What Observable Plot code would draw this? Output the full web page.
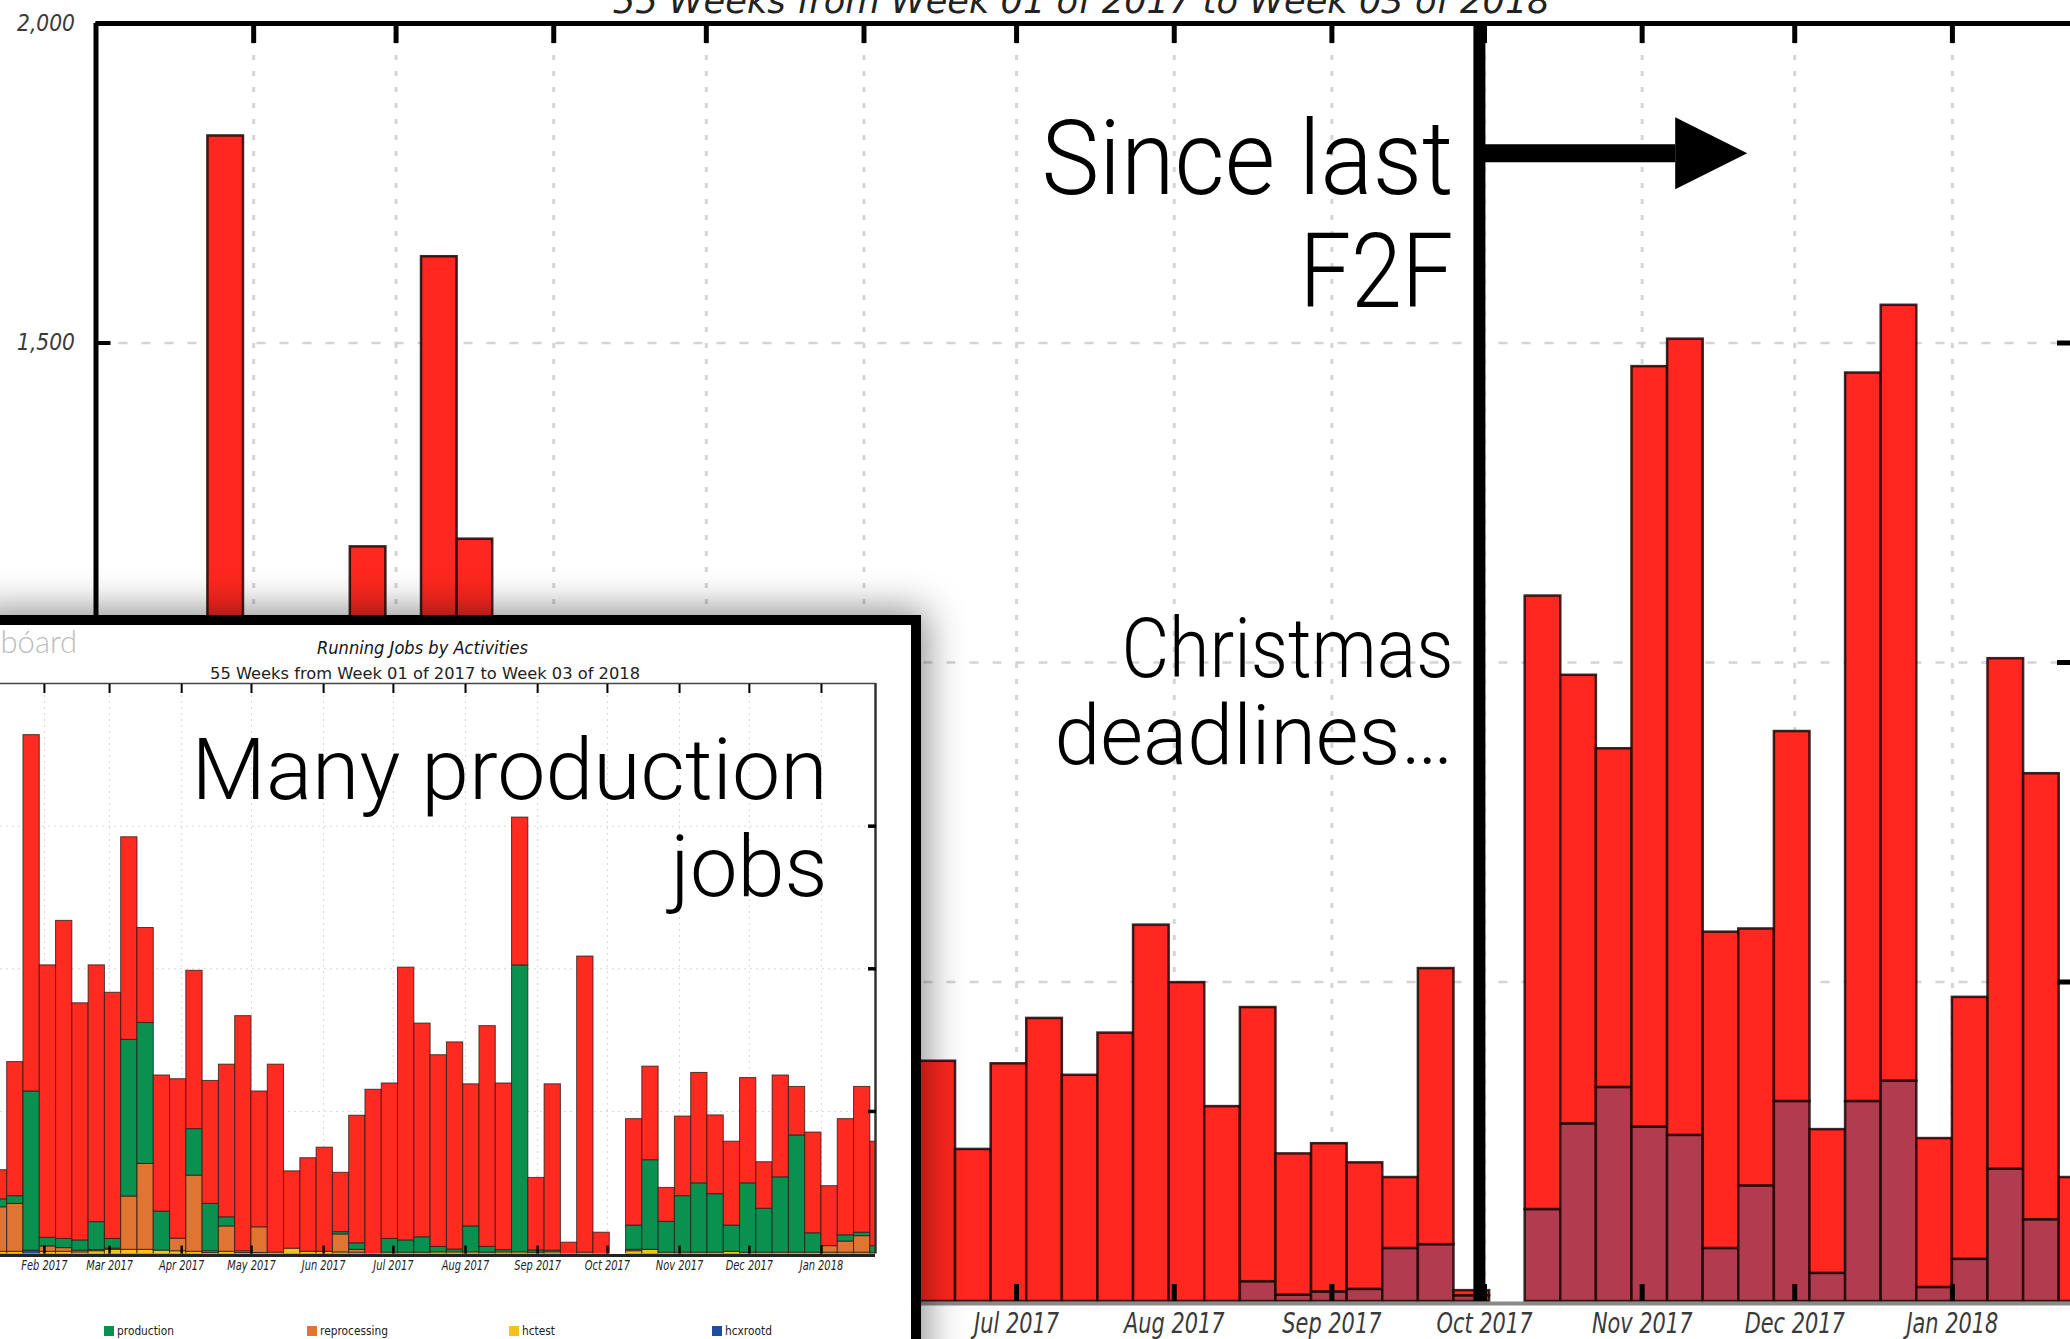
<!DOCTYPE html>
<html>
<head>
<meta charset="utf-8">
<script src="https://cdn.jsdelivr.net/npm/d3@7"></script>
<script src="https://cdn.jsdelivr.net/npm/@observablehq/plot@0.6"></script>
<style>
html, body { margin:0; padding:0; background:#fff; overflow:hidden; }
#page { position:relative; width:2070px; height:1339px; overflow:hidden; background:#fff; }
#main { position:absolute; left:0; top:0; }
#insetBox { position:absolute; left:-20px; top:615px; width:941px; height:800px; box-sizing:border-box; border:10px solid #000; background:#fff; box-shadow:0 0 36px 5px rgba(0,0,0,0.45); }
#inset { position:absolute; left:0; top:625px; }
#legend { position:absolute; left:0; top:1325px; width:911px; height:14px; font-family:"DejaVu Sans", sans-serif; font-size:12.5px; color:#222; }
#legend .item { position:absolute; top:0; height:12px; display:flex; align-items:center; white-space:nowrap; }
#legend .sw { width:10px; height:10px; margin-right:3px; flex:none; }
#legend .lab { display:inline-block; transform:scaleX(0.85); transform-origin:0 50%; line-height:12px; }
</style>
</head>
<body>
<div id="page">
  <div id="main"></div>
  <div id="insetBox"></div>
  <div id="inset"></div>
  <div id="legend"></div>
</div>
<script>
// ---------------- data ----------------
const weeks = d3.utcMonday.range(new Date(Date.UTC(2017,0,2)), new Date(Date.UTC(2018,0,23))); // 56 weekly bars
const monthTicks = d3.utcMonth.range(new Date(Date.UTC(2017,1,1)), new Date(Date.UTC(2018,0,2)));
const mainLabelTicks = d3.utcMonth.range(new Date(Date.UTC(2017,6,1)), new Date(Date.UTC(2018,0,2))); // the ones not covered by the inset
const domainStart = new Date(Date.UTC(2017,0,1));
const domainEnd = new Date(Date.UTC(2018,0,24,5,17));
const titleText = "55 Weeks from Week 01 of 2017 to Week 03 of 2018";

// main (background) chart: two stacked series
const mainSeries = ["user", "analysis"];
const mainColors = ["#B23C4F", "#FF271F"];
const mainUser = [0,0,0,0,0,0,0,0,0,0, 0,0,0,0,0,0,0,0,0,0, 0,0,0,0,0,0,0,0,0,0, 0,0,
  31,10,15,19,83,89,9,0,144,278, 335,273,260,83,181,313,44,313,345,22, 66,207,128,0];
const mainAnalysis = [700,650,900,1824,950,1000,800,1181,850,1635, 1193,600,580,900,560,620,780,540,620,280,
  320,360,290,376,238,372,443,354,420,589, 499,305,
  429,221,232,198,111,432,8,0,960,702, 530,1190,1246,495,402,579,225,1140,1214,233, 410,799,698,194];
const mainYTicks = [500, 1000, 1500, 2000];
const mainYLabels = [1500, 2000]; // 500 and 1,000 are covered by the inset

// annotations of the main chart
const f2fDate = new Date(Date.UTC(2017,8,30));
const arrowData = [{from: f2fDate, to: new Date(Date.UTC(2017,10,7,12)), value: 1797}];
const noteF2F = ["Since last", "F2F"];
const noteXmas = ["Christmas", "deadlines…"];

// inset chart: Running Jobs by Activities
const insetTitle = "Running Jobs by Activities";
const insetNote = ["Many production", "jobs"];
const insetSeries = ["hcxrootd", "hctest", "reprocessing", "production", "analysis"];
const insetColors = ["#1C4E9C", "#F3C418", "#E07432", "#0A9150", "#FF2A20"];
const legendSeries = ["production", "reprocessing", "hctest", "hcxrootd"];
const hcxrootd = [0,0,0,12,0,0,0,0,0,0, 0,0,0,0,0,0,0,0,0,0, 0,0,0,0,0,0,0,0,0,0, 0,0,0,0,0,0,0,0,0,0, 0,0,0,0,0,0,0,0,0,0, 0,0,0,0,0,0];
const hctest = [8,8,8,0,8,8,6,10,15,15, 15,12,10,8,4,8,4,4,5,19, 8,8,6,5,0,5,5,5,6,6, 6,5,6,6,5,6,0,5,0,0, 10,15,5,5,5,5,8,5,5,5, 5,5,5,5,5,3];
const reprocessing = [120,156,168,0,19,13,6,4,4,187, 301,0,44,267,6,89,6,90,0,0, 0,0,63,10,0,0,0,0,0,0, 0,0,0,0,0,0,0,0,0,0, 5,0,0,0,0,0,0,0,0,0, 0,0,23,39,58,0];
const production = [40,28,27,558,30,32,36,98,34,549, 494,137,0,163,166,32,0,0,0,0, 0,0,8,23,0,48,43,54,19,10, 91,20,8,1006,8,6,0,0,0,0, 85,314,108,198,243,205,92,243,154,264, 411,68,0,22,12,25];
const analysis = [400,102,470,1249,955,1115,831,900,863,710, 333,477,559,555,431,535,824,476,659,271, 328,365,208,447,576,545,956,749,672,726, 498,774,584,518,254,583,40,1038,75,0, 373,328,119,279,387,276,294,369,163,357, 170,353,210,407,511,366];

// ---------------- helpers ----------------
function squeezeSel(svg, selector, k) {
  svg.querySelectorAll(selector).forEach(t => {
    t.setAttribute("textLength", t.getComputedTextLength() * k);
    t.setAttribute("lengthAdjust", "spacingAndGlyphs");
  });
}
function squeezeText(svg, str, width) {
  svg.querySelectorAll("text").forEach(t => {
    if (t.textContent === str) {
      t.setAttribute("textLength", width);
      t.setAttribute("lengthAdjust", "spacingAndGlyphs");
    }
  });
}
const fmtMonth = d3.utcFormat("%b %Y");
const grid = "#d4d4d4";
const thin = {fontFamily: "Roboto, sans-serif", fontWeight: 300, fill: "#000", lineAnchor: "bottom", textAnchor: "end"};

// ---------------- main chart ----------------
const mainValues = {user: mainUser, analysis: mainAnalysis};
const mainData = weeks.flatMap((w, i) => mainSeries.map(s => ({start: w, end: d3.utcDay.offset(w, 7), series: s, value: mainValues[s][i]})))
  .filter(d => d.value > 0);

const arrowHead = {draw(ctx, l, r) { ctx.moveTo(-r, 0); ctx.lineTo(0, -l); ctx.lineTo(r, 0); ctx.closePath(); }};

const mainPlot = Plot.plot({
  width: 2070, height: 1339,
  marginLeft: 95.5, marginRight: 0, marginTop: 23, marginBottom: 38,
  style: {fontFamily: "DejaVu Sans, sans-serif", background: "#fff", color: "#000"},
  x: {type: "utc", domain: [domainStart, domainEnd]},
  y: {domain: [0, 2000], label: null},
  color: {domain: mainSeries, range: mainColors},
  marks: [
    Plot.ruleY([500, 1000, 1500], {stroke: grid, strokeWidth: 2.5, strokeDasharray: "9,14"}),
    Plot.ruleX(monthTicks, {stroke: grid, strokeWidth: 3, strokeDasharray: "5,11"}),
    Plot.rectY(mainData, Plot.stackY({x1: "start", x2: "end", y: "value", fill: "series", order: mainSeries,
      stroke: "#1a0606", strokeWidth: 2.5, strokeOpacity: 0.85})),
    Plot.ruleY([0], {stroke: "#8a8a8a", strokeWidth: 4, dy: 2}),
    Plot.ruleX([domainStart], {stroke: "#000", strokeWidth: 5}),
    Plot.ruleY([2000], {stroke: "#000", strokeWidth: 5}),
    Plot.axisX(monthTicks, {anchor: "top", tickSize: -19, strokeWidth: 5, fill: "none", label: null}),
    Plot.axisX(monthTicks, {anchor: "bottom", tickSize: -17, strokeWidth: 5, fill: "none", label: null}),
    Plot.axisX(mainLabelTicks, {anchor: "bottom", tickSize: 0, tickPadding: 11, tickFormat: fmtMonth,
      fontSize: 29, fontStyle: "italic", fill: "#3a3a3a", label: null}),
    Plot.axisY(mainYTicks, {anchor: "left", tickSize: -15, strokeWidth: 4, fill: "none", label: null}),
    Plot.axisY(mainYLabels, {anchor: "left", tickSize: 0, tickPadding: 21, tickFormat: d3.format(","),
      fontSize: 23, fontStyle: "italic", fill: "#3a3a3a", label: null}),
    Plot.axisY([500, 1000, 1500], {anchor: "right", tickSize: -14, strokeWidth: 5, fill: "none", label: null}),
    Plot.ruleX([f2fDate], {stroke: "#000", strokeWidth: 12}),
    Plot.link(arrowData, {x1: "from", x2: "to", y1: "value", y2: "value", stroke: "#000", strokeWidth: 18}),
    Plot.vector(arrowData, {x: "to", y: "value", rotate: 90, length: 72, r: 36, anchor: "start",
      shape: arrowHead, fill: "#000", stroke: "none"}),
    Plot.text([titleText], {frameAnchor: "top", dx: -2, dy: -11, lineAnchor: "bottom", fontSize: 36,
      fontStyle: "italic", fill: "#222"}),
    Plot.text([noteF2F[0]], {...thin, x: f2fDate, frameAnchor: "top", dx: -26, dy: 170, fontSize: 103}),
    Plot.text([noteF2F[1]], {...thin, x: f2fDate, frameAnchor: "top", dx: -26, dy: 283, fontSize: 103}),
    Plot.text([noteXmas[0]], {...thin, x: f2fDate, frameAnchor: "top", dx: -26, dy: 653, fontSize: 83}),
    Plot.text([noteXmas[1]], {...thin, x: f2fDate, frameAnchor: "top", dx: -26, dy: 740, fontSize: 83})
  ]
});
document.getElementById("main").append(mainPlot);
squeezeSel(mainPlot, 'g[aria-label="x-axis tick label"] text', 0.72);
squeezeSel(mainPlot, 'g[aria-label="y-axis tick label"] text', 0.88);
squeezeText(mainPlot, titleText, 937);
squeezeText(mainPlot, noteF2F[0], 412);
squeezeText(mainPlot, noteF2F[1], 154);
squeezeText(mainPlot, noteXmas[0], 332);
squeezeText(mainPlot, noteXmas[1], 399);

// ---------------- inset chart ----------------
const insetValues = {hcxrootd, hctest, reprocessing, production, analysis};
const insetData = weeks.flatMap((w, i) => insetSeries.map(s => ({start: w, end: d3.utcDay.offset(w, 7), series: s, value: insetValues[s][i]})))
  .filter(d => d.value > 0);

const insetPlot = Plot.plot({
  width: 911, height: 714,
  marginLeft: 0, marginRight: 36, marginTop: 58, marginBottom: 85.4,
  style: {fontFamily: "DejaVu Sans, sans-serif", background: "#fff", color: "#000"},
  x: {type: "utc", domain: [domainStart, domainEnd], range: [-28.2, 875]},
  y: {domain: [0, 2000], label: null},
  color: {domain: insetSeries, range: insetColors},
  marks: [
    Plot.ruleY([500, 1000, 1500], {stroke: "#d8d8d8", strokeWidth: 1, strokeDasharray: "2,4"}),
    Plot.ruleX(monthTicks, {stroke: "#d8d8d8", strokeWidth: 1, strokeDasharray: "2,4"}),
    Plot.rectY(insetData, Plot.stackY({x1: "start", x2: "end", y: "value", fill: "series", order: insetSeries,
      stroke: "#2a1a1a", strokeWidth: 1, strokeOpacity: 0.8, clip: true})),
    Plot.ruleY([0], {stroke: "#222", strokeWidth: 3, dy: 1.5}),
    Plot.ruleY([2000], {stroke: "#444", strokeWidth: 1.5}),
    Plot.ruleX([domainEnd], {stroke: "#333", strokeWidth: 2.5}),
    Plot.axisX(monthTicks, {anchor: "top", tickSize: -9, strokeWidth: 2, fill: "none", label: null}),
    Plot.axisX(monthTicks, {anchor: "bottom", tickSize: -8, strokeWidth: 2.5, fill: "none", label: null}),
    Plot.axisX(monthTicks, {anchor: "bottom", tickSize: 0, tickPadding: 6, tickFormat: fmtMonth,
      fontSize: 13.5, fontStyle: "italic", fill: "#222", label: null}),
    Plot.axisY([500, 1000, 1500], {anchor: "right", tickSize: -8, strokeWidth: 3.5, fill: "none", label: null}),
    Plot.text(["bóard"], {frameAnchor: "top-left", textAnchor: "start", lineAnchor: "middle", dx: 0, dy: -40,
      fontSize: 31, fontFamily: "Lato, sans-serif", fontWeight: 300, fill: "#bdbdbd"}),
    Plot.text([insetTitle], {frameAnchor: "top", dx: -15.5, dy: -30, lineAnchor: "bottom", fontSize: 17,
      fontStyle: "italic", fill: "#111"}),
    Plot.text([titleText], {frameAnchor: "top", dx: -13, dy: -5, lineAnchor: "bottom", fontSize: 15.5,
      fill: "#222"}),
    Plot.text([insetNote[0]], {...thin, frameAnchor: "top-right", dx: -48, dy: 115, fontSize: 86}),
    Plot.text([insetNote[1]], {...thin, frameAnchor: "top-right", dx: -48, dy: 212, fontSize: 86})
  ]
});
document.getElementById("inset").append(insetPlot);
squeezeSel(insetPlot, 'g[aria-label="x-axis tick label"] text', 0.73);
squeezeText(insetPlot, insetTitle, 211);
squeezeText(insetPlot, titleText, 430);
squeezeText(insetPlot, insetNote[0], 636);
squeezeText(insetPlot, insetNote[1], 157);

// ---------------- inset legend ----------------
const legend = document.getElementById("legend");
legendSeries.forEach((s, i) => {
  const item = document.createElement("div");
  item.className = "item";
  item.style.left = (104 + i * 202.7) + "px";
  const sw = document.createElement("span");
  sw.className = "sw";
  sw.style.background = insetColors[insetSeries.indexOf(s)];
  const lab = document.createElement("span");
  lab.className = "lab";
  lab.textContent = s;
  item.append(sw, lab);
  legend.append(item);
});
</script>
</body>
</html>
